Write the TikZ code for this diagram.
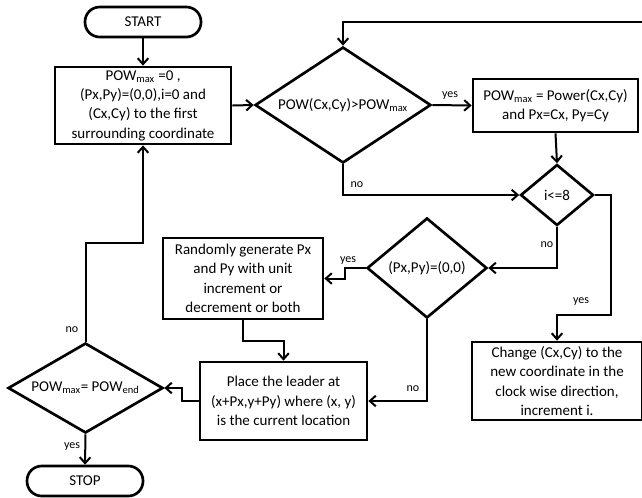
\documentclass[tikz,border=0pt]{standalone}
\usepackage{fontspec}
\setmainfont{Carlito}
\usetikzlibrary{shapes.geometric,arrows.meta}
\begin{document}
\begin{tikzpicture}[x=0.75pt,y=-0.75pt,
  font=\fontsize{11.25}{14.5}\selectfont,
  box/.style={draw,line width=2pt,align=center,inner sep=0pt},
  term/.style={draw,line width=2pt,rounded corners=11pt,inner sep=0pt,minimum width=87pt,minimum height=22.5pt},
  dia/.style={draw,line width=2pt,diamond,inner sep=0pt,align=center},
  arr/.style={line width=1.5pt,-{Straight Barb[length=4.5pt,width=8pt]}},
  lbl/.style={font=\fontsize{9}{10}\selectfont,inner sep=1pt}]
\useasboundingbox (0,0) rectangle (642,497);
% terminals
\node[term] (start) at (143,22) {START};
\node[term] (stop) at (85,481) {STOP};
% boxes
\node[box,minimum width=132pt,minimum height=57.75pt] (init) at (143,105.5)
  {POW\textsubscript{max} =0 ,\\(Px,Py)=(0,0),i=0 and\\(Cx,Cy) to the first\\surrounding coordinate};
\node[box,minimum width=123.75pt,minimum height=39.75pt] (upd) at (555.5,105.5)
  {POW\textsubscript{max} = Power(Cx,Cy)\\and Px=Cx, Py=Cy};
\node[box,minimum width=120pt,minimum height=60.75pt] (rand) at (243,278.5)
  {Randomly generate Px\\and Py with unit\\increment or\\decrement or both};
\node[box,minimum width=127.5pt,minimum height=58.5pt] (chg) at (557,381)
  {Change (Cx,Cy) to the\\new coordinate in the\\clock wise direction,\\increment i.};
\node[box,minimum width=125.25pt,minimum height=58.5pt] (place) at (283.5,401)
  {Place the leader at\\(x+Px,y+Py) where (x, y)\\is the current location};
% diamonds
\node[dia,minimum width=132pt,minimum height=87pt,aspect=1.52] (d1) at (343,105)
  {POW(Cx,Cy)>POW\textsubscript{max}};
\node[dia,minimum width=54.75pt,minimum height=45.75pt,aspect=1.2] (d2) at (557,195) {i<=8};
\node[dia,minimum width=90pt,minimum height=75pt,aspect=1.2] (d3) at (427,268) {(Px,Py)=(0,0)};
\node[dia,minimum width=116.25pt,minimum height=67.5pt,aspect=1.72] (d4) at (85.5,388)
  {POW\textsubscript{max}= POW\textsubscript{end}};
\coordinate (R) at (642,22);
% connectors
\draw[arr] (start) -- (init);
\draw[arr] (init.east) -- (d1.west);
\draw[arr] (R) -| (d1.north);
\draw[arr] (d1.east) -- (upd.west);
\draw[arr] (upd.south) -- (d2.north);
\draw[arr] (d1.south) |- (d2.west);
\draw[arr] (d2.east) -| (611,315) -| (chg.north);
\draw[arr] (d2.south) |- (d3.east);
\draw[arr] (d3.west) -- (345,268) |- (rand.east);
\draw[arr] (rand.south) -- ++(0,21) -| (place.north);
\draw[arr] (d3.south) |- (place.east);
\draw[arr] (place.west) -- (182,401) |- (d4.east);
\draw[arr] (d4.north) -- (85.5,243) -| (init.south);
\draw[arr] (d4.south) -- (stop.north);
% labels
\node[lbl] at (450,96) {yes};
\node[lbl] at (357,185) {no};
\node[lbl] at (547,245) {no};
\node[lbl] at (581,302) {yes};
\node[lbl] at (348,261) {yes};
\node[lbl] at (413,389) {no};
\node[lbl] at (72,330) {no};
\node[lbl] at (72,447) {yes};
\end{tikzpicture}
\end{document}
